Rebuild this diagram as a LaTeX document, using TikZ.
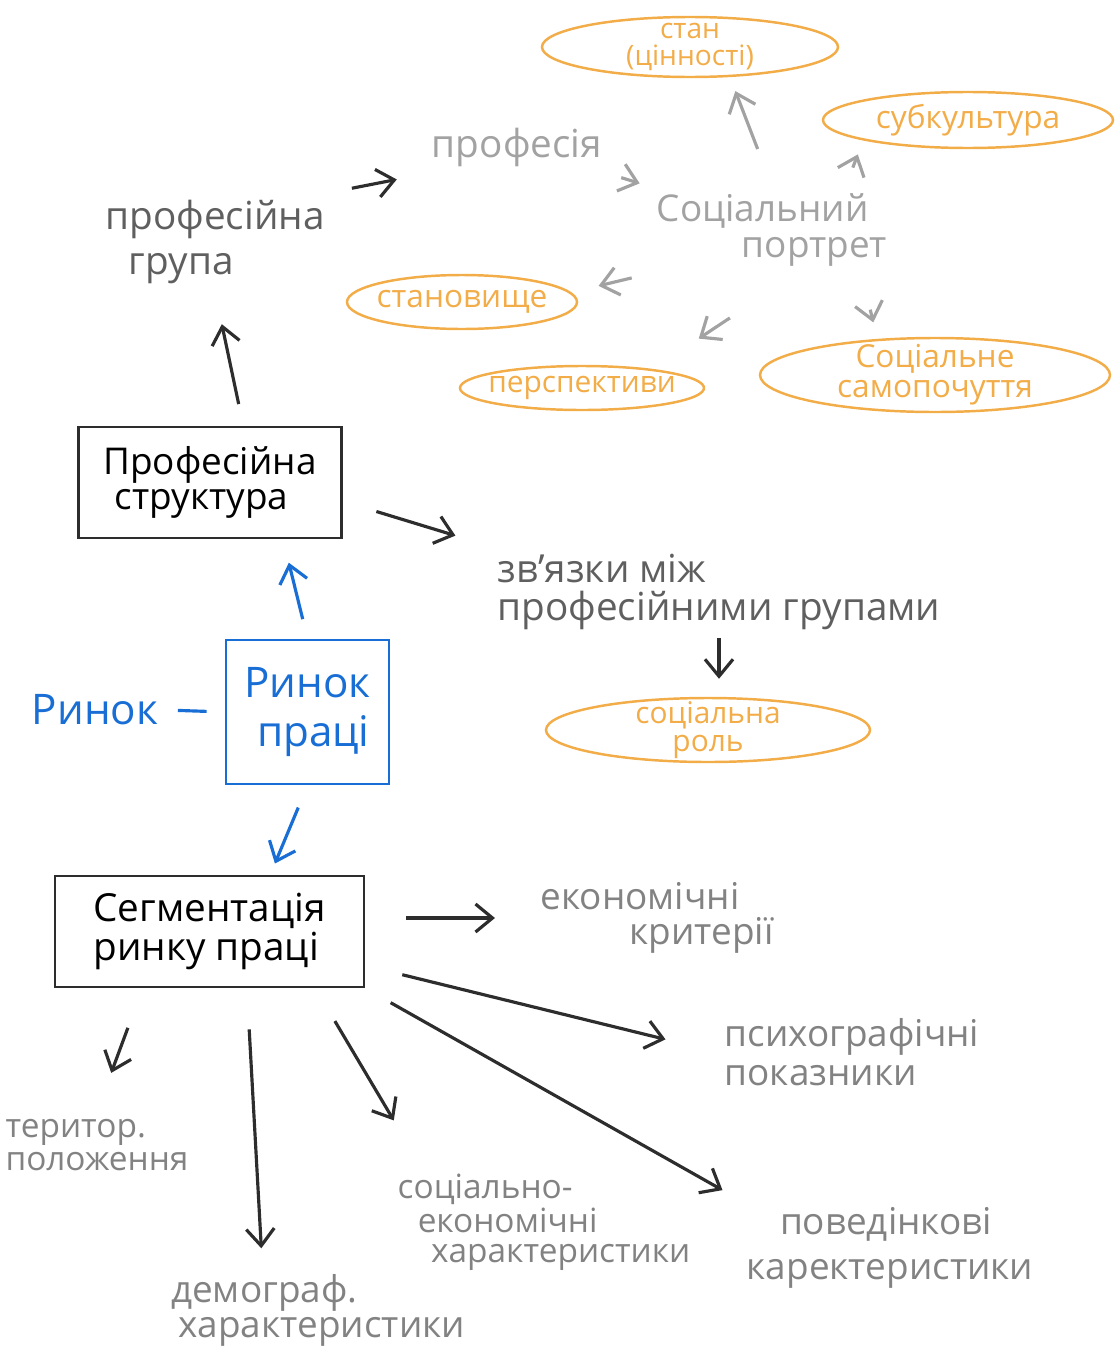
\documentclass[tikz,border=0pt]{standalone}
\usepackage{fontspec}
\setmainfont{Open Sans}
\usetikzlibrary{positioning,arrows.meta,shapes.geometric,calc}
\usepackage{xcolor}
\definecolor{ovalorange}{RGB}{242,172,72}
\definecolor{paleink}{RGB}{162,162,162}
\definecolor{midink}{RGB}{130,130,130}
\definecolor{darkink}{RGB}{95,95,95}
\definecolor{blackink}{RGB}{45,45,45}
\definecolor{blueink}{RGB}{24,110,212}

\begin{document}
\begin{tikzpicture}[>={Straight Barb[length=1.7mm,width=2.8mm]},
    oval/.style={ellipse, draw=ovalorange, line width=0.7pt, inner sep=0pt},
    ovaltext/.style={text=ovalorange, align=center, inner sep=0pt},
    palenote/.style={text=paleink, align=left, inner sep=2pt},
    darknote/.style={text=darkink, align=left, inner sep=2pt},
    midnote/.style={text=midink, align=left, inner sep=2pt},
    inkbox/.style={draw=blackink, line width=0.8pt, align=left, inner sep=2pt},
    bluebox/.style={draw=blueink, text=blueink, line width=0.8pt, align=left, inner sep=2pt},
    palearr/.style={->, draw=paleink, line width=0.9pt},
    darkarr/.style={->, draw=blackink, line width=0.9pt},
    bluearr/.style={->, draw=blueink, line width=0.9pt}]
    \path[use as bounding box] (0,0) rectangle (11.15,-13.51);

    % Orange ovals
    \node[oval, minimum width=2.96cm, minimum height=0.60cm,
        label={[ovaltext, font=\fontsize{8}{7.5}\selectfont]center:{стан\\(цінності)}}] (stan) at (6.90,-0.47) {};
    \node[oval, minimum width=2.90cm, minimum height=0.56cm,
        label={[ovaltext, font=\fontsize{9}{9}\selectfont]center:субкультура}] (sub) at (9.68,-1.20) {};
    \node[oval, minimum width=2.30cm, minimum height=0.54cm,
        label={[ovaltext, font=\fontsize{9}{9}\selectfont]center:становище}] (stano) at (4.62,-3.02) {};
    \node[oval, minimum width=2.44cm, minimum height=0.44cm,
        label={[ovaltext, font=\fontsize{8.5}{8.5}\selectfont]center:перспективи}] (persp) at (5.82,-3.88) {};
    \node[oval, minimum width=3.50cm, minimum height=0.74cm,
        label={[ovaltext, font=\fontsize{9}{8.5}\selectfont]center:{Соціальне\\самопочуття}}] (samop) at (9.35,-3.75) {};
    \node[oval, minimum width=3.24cm, minimum height=0.64cm,
        label={[ovaltext, font=\fontsize{8.5}{8}\selectfont]center:{соціальна\\роль}}] (role) at (7.08,-7.30) {};

    % Upper notes
    \node[palenote, font=\fontsize{11}{13}\selectfont] (prof) at (5.17,-1.47) {професія};
    \node[darknote, font=\fontsize{11}{13}\selectfont] (grp) at (2.15,-2.42) {професійна\\\hspace*{0.6em}група};
    \node[palenote, font=\fontsize{10.5}{10}\selectfont] (port) at (7.72,-2.30) {Соціальний\\\hspace*{2.3em}портрет};
    \node[darknote, font=\fontsize{11}{11}\selectfont] (zv) at (7.19,-5.92) {зв'язки між\\професійними групами};

    % Boxes
    \node[inkbox, minimum width=2.63cm, minimum height=1.11cm, font=\fontsize{10.5}{10}\selectfont] (pstr) at (2.10,-4.825) {Професійна\\\hspace*{0.3em}структура};
    \node[bluebox, minimum width=1.63cm, minimum height=1.44cm, font=\fontsize{12}{14}\selectfont] (rp) at (3.075,-7.12) {Ринок\\\hspace*{0.3em}праці};
    \node[text=blueink, inner sep=2pt, font=\fontsize{12}{12}\selectfont] (rynok) at (0.95,-7.10) {Ринок};
    \node[inkbox, minimum width=3.09cm, minimum height=1.11cm, font=\fontsize{11}{11}\selectfont] (seg) at (2.095,-9.315) {Сегментація\\ринку праці};

    % Lower notes
    \node[midnote, font=\fontsize{10.5}{10}\selectfont] (ekon) at (6.57,-9.18) {економічні\\\hspace*{2.4em}критерії};
    \node[midnote, font=\fontsize{10.5}{11}\selectfont] (psych) at (8.52,-10.52) {психографічні\\показники};
    \node[midnote, font=\fontsize{9.5}{9.5}\selectfont] (ter) at (0.97,-11.45) {територ.\\положення};
    \node[midnote, font=\fontsize{10.5}{10}\selectfont] (dem) at (3.18,-13.10) {демограф.\\\hspace*{0.2em}характеристики};
    \node[midnote, font=\fontsize{9.5}{8.5}\selectfont] (soc) at (5.44,-12.22) {соціально-\\\hspace*{0.6em}економічні\\\hspace*{1em}характеристики};
    \node[midnote, font=\fontsize{10.5}{13}\selectfont] (pov) at (8.90,-12.48) {\hspace*{0.9em}поведінкові\\каректеристики};

    % Arrows around the social portrait
    \draw[darkarr, shorten <=2mm, shorten >=2.8mm] (grp.north east) -- (prof.south west);
    \draw[palearr, shorten <=1.2mm, shorten >=1mm] (prof.south east) -- (port.north west);
    \draw[palearr, shorten <=4mm, shorten >=1.5mm] (port.north) -- (stan.-37);
    \draw[palearr, shorten <=2mm, shorten >=1.5mm] ($(port.north east)!0.4!(port.north)$) -- (sub.-169);
    \draw[palearr, shorten <=1.8mm, shorten >=2.8mm] (port.south west) -- (stano.5);
    \draw[palearr, shorten <=8mm, shorten >=5.5mm] ($(port.south)!0.2!(port.south east)$) -- (persp.15);
    \draw[palearr, shorten <=3.7mm, shorten >=1.7mm] ($(port.south)!0.73!(port.south east)$) -- (samop.148);

    % Professional structure
    \draw[darkarr, shorten <=2.2mm, shorten >=3.3mm] ($(pstr.north)!0.25!(pstr.north east)$) -- (grp.south);
    \draw[darkarr, shorten <=3.5mm, shorten >=3.6mm] ($(pstr.east)!0.33!(pstr.south east)$) -- (zv.north west);
    \draw[darkarr, shorten >=1.8mm] (zv.south) -- (zv.south |- role.north);

    % Labour market
    \draw[blueink, line width=0.9pt, shorten <=1.2mm, shorten >=1.8mm] (rynok.east) -- (rp.west);
    \draw[bluearr, shorten <=2mm, shorten >=2.4mm] (rp.north) -- ($(pstr.south)!0.55!(pstr.south east)$);
    \draw[bluearr, shorten <=2.4mm, shorten >=1.2mm] (rp.south) -- ($(seg.north)!0.39!(seg.north east)$);

    % Segmentation criteria
    \draw[darkarr, shorten <=4.1mm, shorten >=3.8mm] (seg.east |- ekon.west) -- (ekon.west);
    \draw[darkarr, shorten <=3.8mm, shorten >=5.3mm] ($(seg.east)!0.6!(seg.south east)$) -- (psych.west);
    \draw[darkarr, shorten <=2.9mm, shorten >=1.9mm] (seg.south east) -- (pov.north west);
    \draw[darkarr, shorten <=3.8mm, shorten >=5.3mm] ($(seg.south)!0.68!(seg.south east)$) -- ($(soc.north west)!0.2!(soc.north)$);
    \draw[darkarr, shorten <=4.1mm, shorten >=1.8mm] ($(seg.south)!0.24!(seg.south east)$) -- ($(dem.north west)!0.64!(dem.north)$);
    \draw[darkarr, shorten <=4.2mm, shorten >=4.1mm] ($(seg.south west)!0.57!(seg.south)$) -- (ter.north);
\end{tikzpicture}
\end{document}
